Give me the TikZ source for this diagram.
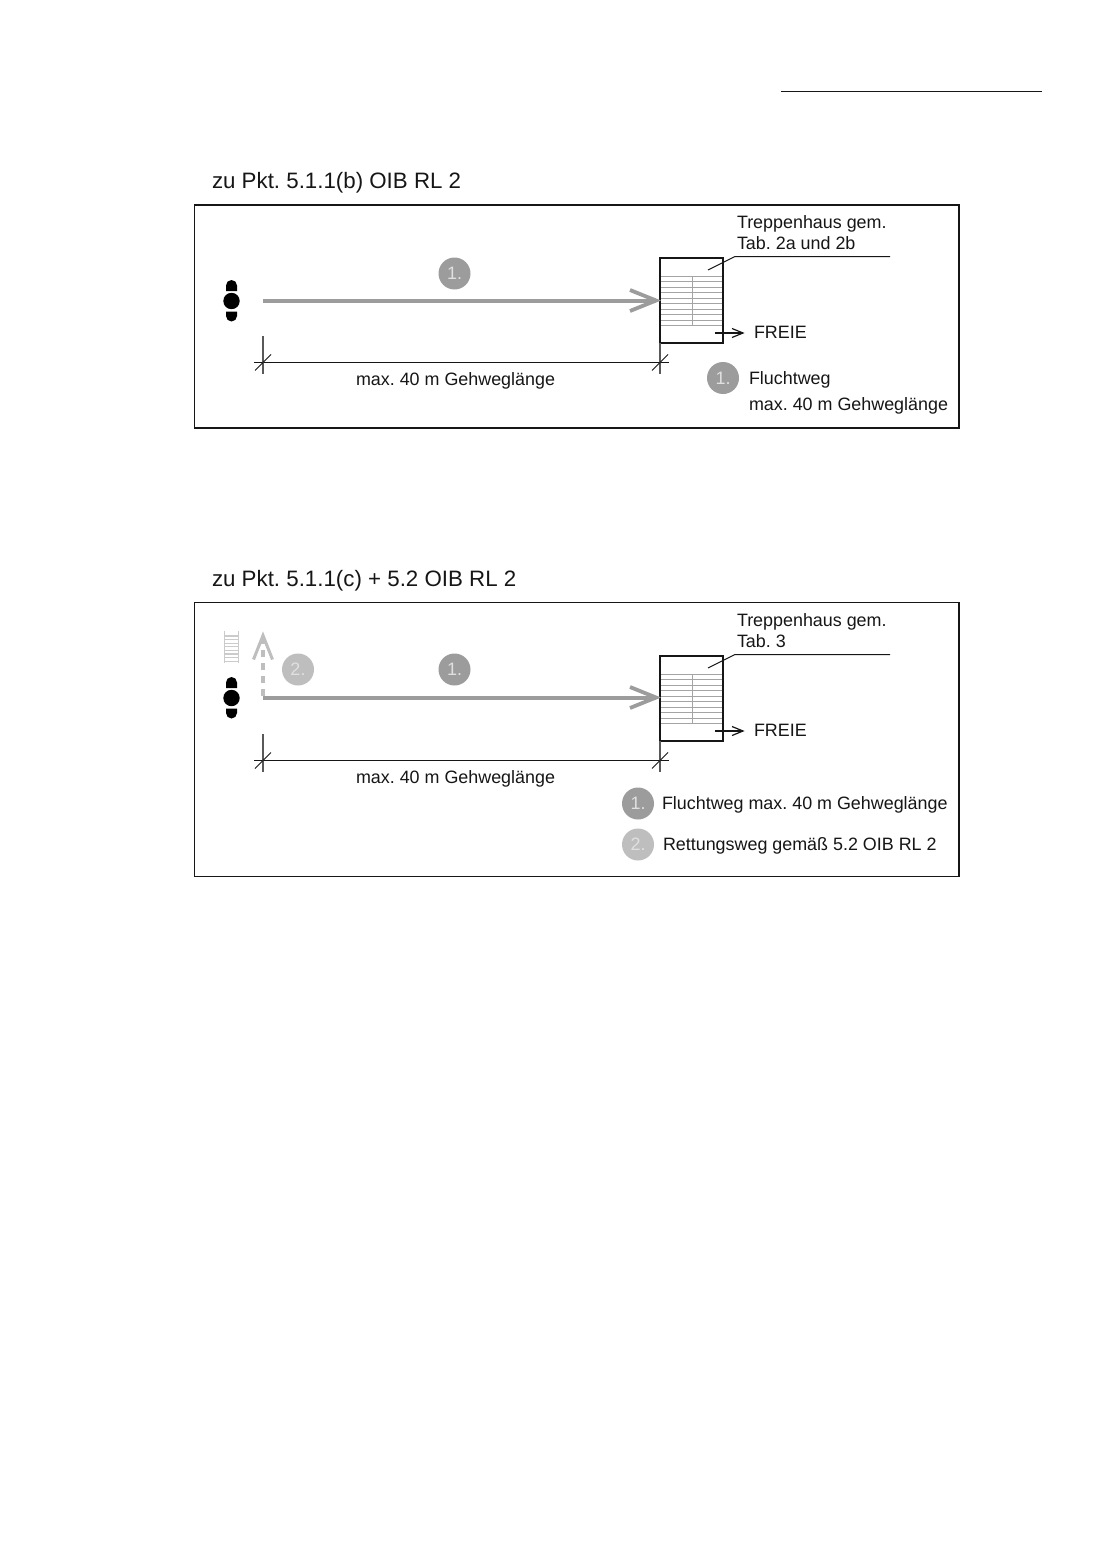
\documentclass[tikz,border=0pt]{standalone}
\usepackage{fontspec}
\setmainfont{Liberation Sans}
\frenchspacing
\definecolor{wayone}{HTML}{9C9C9C}
\definecolor{waytwo}{HTML}{BEBEBE}
\definecolor{ink}{HTML}{161616}
\definecolor{tread}{HTML}{A4A4A4}
\tikzset{
  frame/.style={draw=ink,line width=1.5pt},
  lab/.style={anchor=base west,inner sep=0pt,outer sep=0pt,text=ink,font=\fontsize{17.9}{20}\selectfont},
  ttl/.style={anchor=base west,inner sep=0pt,outer sep=0pt,text=ink,font=\fontsize{22.3}{26}\selectfont},
  badge/.style={circle,minimum size=32pt,inner sep=0pt,text=white!88!black,font=\fontsize{18}{20}\selectfont},
  bone/.style={badge,fill=wayone},
  btwo/.style={badge,fill=waytwo},
  thin/.style={draw=ink,line width=1pt},
  tick/.style={draw=black!65,line width=1.1pt},
  way/.style={draw=wayone,line width=4pt},
  treadline/.style={draw=tread,line width=1pt},
}
\newcommand{\commonparts}[4]{%
  % stairs
  \foreach \i in {0,...,9} \draw[treadline] (660,276+5.55*\i) -- (723,276+5.55*\i);
  \draw[treadline] (692,276) -- (692,326);
  \node[draw=ink,line width=1.6pt,minimum width=63pt,minimum height=85pt,inner sep=0pt,anchor=north west,outer sep=0pt] (#1stair) at (660,258) {};
  \begin{scope}[yshift=#4]
  % person
  \fill[black] (231.5,301) circle (8.2);
  \fill[black] (226,291) -- (226,285.5) arc[start angle=180,end angle=360,radius=5.5] -- (237,291) -- cycle;
  \fill[black] (226,311.5) -- (226,316) arc[start angle=180,end angle=0,radius=5.5] -- (237,311.5) -- cycle;
  % main route
  \coordinate (#1start) at (263,300.5);
  \coordinate (#1tip) at (660,300.5);
  \draw[way] (#1start) -- ([xshift=-4pt]#1tip);
  \draw[way,line width=3.8pt,miter limit=10] ([xshift=-30pt,yshift=-10.5pt]#1tip) -- ([xshift=-4pt]#1tip) -- ([xshift=-30pt,yshift=10.5pt]#1tip);
  \end{scope}
  % exit
  \coordinate (#1exS) at (715,333);
  \coordinate (#1exE) at (743,333);
  \draw[thin,line width=1.2pt] (#1exS) -- (#1exE);
  \draw[thin,line width=1.2pt] ([xshift=-11pt,yshift=-4.5pt]#1exE) -- (#1exE) -- ([xshift=-11pt,yshift=4.5pt]#1exE);
  \node[lab] (#1freie) at (754,338) {FREIE};
  % leader
  \coordinate (#1la) at (708,270);
  \coordinate (#1lb) at (735,256.5);
  \coordinate (#1lc) at (890,256.5);
  \draw[thin] (#1la) -- (#1lb) -- (#1lc);
  % dimension
  \coordinate (#1dl) at (263,362.5);
  \coordinate (#1dr) at (660,362.5);
  \draw[thin] ([xshift=-9pt]#1dl) -- ([xshift=9pt]#1dr);
  \draw[tick] (263,336) -- (263,374);
  \draw[tick] (#1stair.south west) -- (660,374);
  \draw[thin] ([xshift=-8pt,yshift=-8pt]#1dl) -- ([xshift=8pt,yshift=8pt]#1dl);
  \draw[thin] ([xshift=-8pt,yshift=-8pt]#1dr) -- ([xshift=8pt,yshift=8pt]#1dr);
  \node[lab] (#1dim) at (356,385.7) {max. 40 m Gehweglänge};
  % badge over route
  \node[bone] (#1bad) at (454.5,#3) {1.};
  \node[lab] (#1tr) at (737,228.3) {Treppenhaus gem.};
  \node[lab] (#1tab) at (737,249.3) {#2};
}
\begin{document}
\begin{tikzpicture}[x=1pt,y=-1pt]
\useasboundingbox[fill=white] (0,0) rectangle (1101,1562);
\coordinate (ra) at (781,91.5);
\coordinate (rb) at (1042,91.5);
\draw[ink,line width=1pt] (ra) -- (rb);

% panel 1
\node[ttl] (t1) at (212,189) {zu Pkt. 5.1.1(b) OIB RL 2};
\node[frame,minimum width=764.5pt,minimum height=223pt,inner sep=0pt,outer sep=0pt,anchor=north west] (f1) at (194.5,205) {};
\commonparts{a}{Tab. 2a und 2b}{273.5}{0pt}
\node[bone] (l1) at (723,378) {1.};
\node[lab] (l1a) at (749,384) {Fluchtweg};
\node[lab] (l1b) at (749,410) {max. 40 m Gehweglänge};

% panel 2
\node[ttl] (t2) at (212,586) {zu Pkt. 5.1.1(c) + 5.2 OIB RL 2};
\node[frame,minimum width=764.5pt,minimum height=274pt,inner sep=0pt,outer sep=0pt,anchor=north west] (f2) at (194.5,602.5) {};
\begin{scope}[yshift=-398pt]
\commonparts{b}{Tab. 3}{271.5}{1pt}
\end{scope}
% ladder
\foreach \i in {0,...,7} \draw[draw=waytwo!80!white,line width=1.2pt] (224.5,636+3.6*\i) -- (238.5,636+3.6*\i);
\draw[draw=waytwo!80!white,line width=1.9pt] (224.5,631) -- (224.5,663);
\draw[draw=waytwo!80!white,line width=1.9pt] (238.5,631) -- (238.5,663);
% rescue route
\coordinate (c0) at (263,696);
\coordinate (c1) at (263,638);
\draw[draw=waytwo,line width=3.2pt,dash pattern=on 7pt off 6pt] (c0) -- (c1);
\draw[draw=waytwo,line width=3pt,miter limit=10] (253.5,659.5) -- (263,635.5) -- (272.5,659.5);
\node[btwo] (b2) at (298,669.5) {2.};
\node[bone] (l2) at (638,803.5) {1.};
\node[lab] (l2a) at (662,809) {Fluchtweg max. 40 m Gehweglänge};
\node[btwo] (l3) at (638,844.5) {2.};
\node[lab] (l3a) at (663,850) {Rettungsweg gemäß 5.2 OIB RL 2};
\end{tikzpicture}
\end{document}
